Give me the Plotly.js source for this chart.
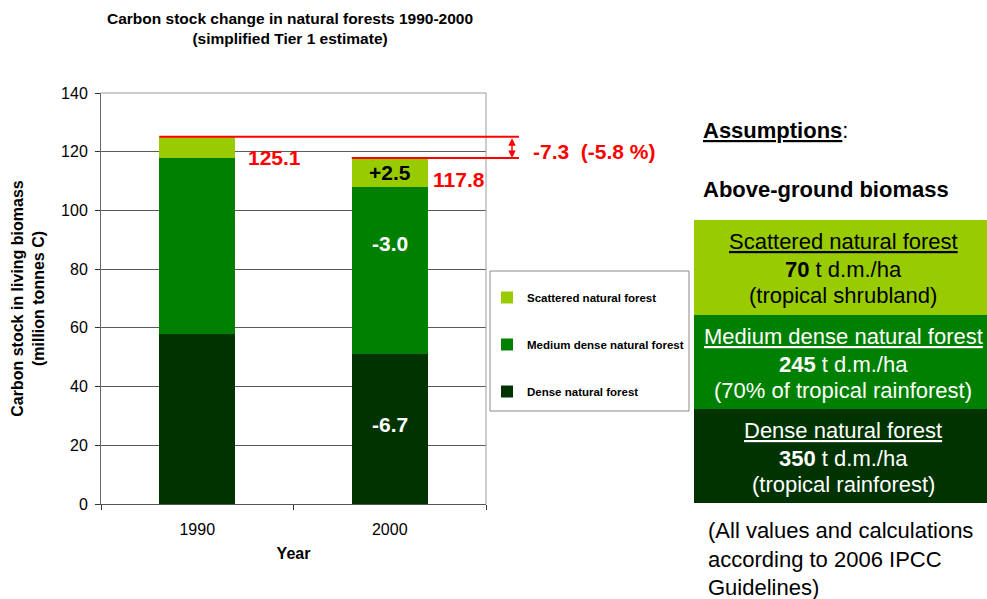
<!DOCTYPE html>
<html><head><meta charset="utf-8">
<script src="https://cdn.plot.ly/plotly-3.0.1.min.js"></script>
<style>html,body{margin:0;padding:0;background:#fff;}#chart{width:987px;height:599px;}</style>
</head><body><div id="chart"></div>
<script>
// ---- data ----
const years = ['1990', '2000'];
const denseForest = [57.97, 51.23];
const mediumForest = [59.79, 56.75];
const scatteredForest = [7.34, 9.85];
const seriesNames = ['Dense natural forest', 'Medium dense natural forest', 'Scattered natural forest'];
const seriesColors = ['#003300', '#008000', '#99CC00'];
const yTicks = [0, 20, 40, 60, 80, 100, 120, 140];

const boxTitles = ['Scattered natural forest', 'Medium dense natural forest', 'Dense natural forest'];
const boxValues = ['70', '245', '350'];
const boxUnits = [' t d.m./ha', ' t d.m./ha', ' t d.m./ha'];
const boxNotes = ['(tropical shrubland)', '(70% of tropical rainforest)', '(tropical rainforest)'];
const boxColors = ['#99CC00', '#008000', '#003300'];
const boxTextColors = ['#000000', '#ffffff', '#ffffff'];

// ---- helpers ----
const FONT = 'Liberation Sans, Arial, sans-serif';
const W = 987, H = 599;
const M = {l: 101, r: 501, t: 93, b: 95};
const plotW = W - M.l - M.r, plotH = H - M.t - M.b;
const px2x = px => (px - M.l) / plotW;
const px2y = py => (H - M.b - py) / plotH;
const bargap = 0.605;

const series = [denseForest, mediumForest, scatteredForest];
const totals = years.map((_, i) => series.reduce((s, a) => s + a[i], 0));
const fmtSigned = v => (v > 0 ? '+' : '') + v.toFixed(1);

const traces = series.map((vals, k) => ({
  type: 'bar', x: years, y: vals, name: seriesNames[k], legendgroup: 'g' + k, legendrank: 3 - k,
  marker: {color: seriesColors[k], line: {width: 0}}, hoverinfo: 'skip'
}));

const barLeftPaper = i => (i + 0.5 - (1 - bargap) / 2) / years.length;

const shapes = [];
// top and right border of the plot area
shapes.push({type: 'line', xref: 'paper', yref: 'paper', x0: 1, x1: 1, y0: 0, y1: 1, line: {color: '#9a9a9a', width: 1}});
shapes.push({type: 'line', xref: 'paper', yref: 'paper', x0: 0, x1: 1, y0: 1, y1: 1, line: {color: '#9a9a9a', width: 1}});
// legend frame
shapes.push({type: 'rect', xref: 'paper', yref: 'paper', x0: px2x(490), x1: px2x(689), y0: px2y(271), y1: px2y(411),
  fillcolor: '#ffffff', line: {color: '#8a8a8a', width: 1}});
// red total lines
totals.forEach((t, i) => {
  shapes.push({type: 'line', xref: 'paper', yref: 'y', x0: barLeftPaper(i), x1: px2x(519), y0: t, y1: t, line: {color: '#ff0000', width: 2}});
});
// assumption boxes
const boxEdges = [220, 315, 409, 503];
boxColors.forEach((c, k) => {
  shapes.push({type: 'rect', xref: 'paper', yref: 'paper', x0: px2x(694), x1: px2x(990), y0: px2y(boxEdges[k]), y1: px2y(boxEdges[k + 1]), fillcolor: c, line: {width: 0}, layer: 'below'});
});

const annotations = [];
// title
annotations.push({xref: 'paper', yref: 'paper', x: 0.49, y: px2y(28), xanchor: 'center', yanchor: 'middle', showarrow: false,
  text: '<b>Carbon stock change in natural forests 1990-2000</b><br><b>(simplified Tier 1 estimate)</b>',
  font: {family: FONT, size: 15.5, color: '#000'}});
const diff = totals[1] - totals[0];
const pct = diff / totals[0] * 100;
// double arrow between totals
annotations.push({xref: 'paper', yref: 'y', x: px2x(512), y: totals[1], axref: 'pixel', ayref: 'y', ax: 0, ay: totals[0],
  showarrow: true, arrowhead: 2, arrowside: 'end+start', arrowsize: 1, arrowwidth: 1.5, arrowcolor: '#ff0000', text: ''});
annotations.push({xref: 'paper', yref: 'y', x: px2x(531), y: (totals[0] + totals[1]) / 2, xanchor: 'left', yanchor: 'middle', yshift: -4,
  showarrow: false, text: '<b>' + diff.toFixed(1) + '\u00a0\u00a0(' + pct.toFixed(1) + ' %)</b>', font: {family: FONT, size: 21, color: '#ff0000'}});
// total labels
const totalShift = [49, 41];
totals.forEach((t, i) => {
  annotations.push({xref: 'x', yref: 'y', x: i, y: t, xanchor: 'left', yanchor: 'middle', xshift: totalShift[i], yshift: -21,
    showarrow: false, text: '<b>' + t.toFixed(1) + '</b>', font: {family: FONT, size: 21, color: '#ff0000'}});
});
// change labels in the 2000 bar
const changeShift = [4, 27, 0];
const changeColors = ['#ffffff', '#ffffff', '#000000'];
series.forEach((vals, k) => {
  const base = series.slice(0, k).reduce((s, a) => s + a[1], 0);
  annotations.push({xref: 'x', yref: 'y', x: 1, y: base + vals[1] / 2, yshift: changeShift[k], showarrow: false,
    text: '<b>' + fmtSigned(vals[1] - vals[0]) + '</b>', font: {family: FONT, size: 21, color: changeColors[k]}});
});
// right panel text
annotations.push({xref: 'paper', yref: 'paper', x: px2x(701), y: px2y(130), xanchor: 'left', yanchor: 'middle', showarrow: false,
  text: '<b><span style="text-decoration:underline">Assumptions</span></b>:', font: {family: FONT, size: 22, color: '#000'}});
annotations.push({xref: 'paper', yref: 'paper', x: px2x(701), y: px2y(189), xanchor: 'left', yanchor: 'middle', showarrow: false,
  text: '<b>Above-ground biomass</b>', font: {family: FONT, size: 22, color: '#000'}});
const lineOffsets = [21, 49, 75];
boxTitles.forEach((t, k) => {
  const lines = ['<span style="text-decoration:underline">' + t + '</span>', '<b>' + boxValues[k] + '</b>' + boxUnits[k], boxNotes[k]];
  lines.forEach((txt, j) => {
    annotations.push({xref: 'paper', yref: 'paper', x: px2x(843), y: px2y(boxEdges[k] + lineOffsets[j]), xanchor: 'center', yanchor: 'middle',
      showarrow: false, text: txt, font: {family: FONT, size: 22, color: boxTextColors[k]}});
  });
});
annotations.push({xref: 'paper', yref: 'paper', x: px2x(706), y: px2y(559), xanchor: 'left', yanchor: 'middle', align: 'left', showarrow: false,
  text: '(All values and calculations<br>according to 2006 IPCC<br>Guidelines)', font: {family: FONT, size: 22, color: '#000'}});

const layout = {
  width: W, height: H, margin: M, paper_bgcolor: '#fff', plot_bgcolor: '#fff',
  font: {family: FONT, color: '#000'},
  barmode: 'stack', bargap: bargap,
  xaxis: {type: 'category', range: [-0.5, 1.5], tickson: 'boundaries', ticks: 'outside', ticklen: 5, tickcolor: '#333',
    showline: true, linecolor: '#555', linewidth: 1, showgrid: false, zeroline: false, ticklabelstandoff: 11,
    tickfont: {family: FONT, size: 16, color: '#000'},
    title: {text: '<b>Year</b>', font: {family: FONT, size: 16, color: '#000'}, standoff: 10}},
  yaxis: {range: [0, 140], tickvals: yTicks, ticks: 'outside', ticklen: 5, tickcolor: '#333', showline: true, linecolor: '#666',
    linewidth: 1, showgrid: true, gridcolor: '#5a5a5a', gridwidth: 1, zeroline: false, ticklabelstandoff: 4,
    tickfont: {family: FONT, size: 16, color: '#000'},
    title: {text: '<b>Carbon stock in living biomass</b><br><b>(million tonnes C)</b>', font: {family: FONT, size: 16, color: '#000'}, standoff: 12}},
  legend: {x: px2x(487), y: px2y(283), xanchor: 'left', yanchor: 'top', borderwidth: 0, bgcolor: 'rgba(0,0,0,0)',
    traceorder: 'grouped', tracegroupgap: 28, itemwidth: 30,
    font: {family: FONT, size: 11.5, color: '#000', weight: 'bold'}},
  shapes: shapes, annotations: annotations, showlegend: true
};

Plotly.newPlot('chart', traces, layout, {displayModeBar: false, staticPlot: true});
</script>
</body></html>
